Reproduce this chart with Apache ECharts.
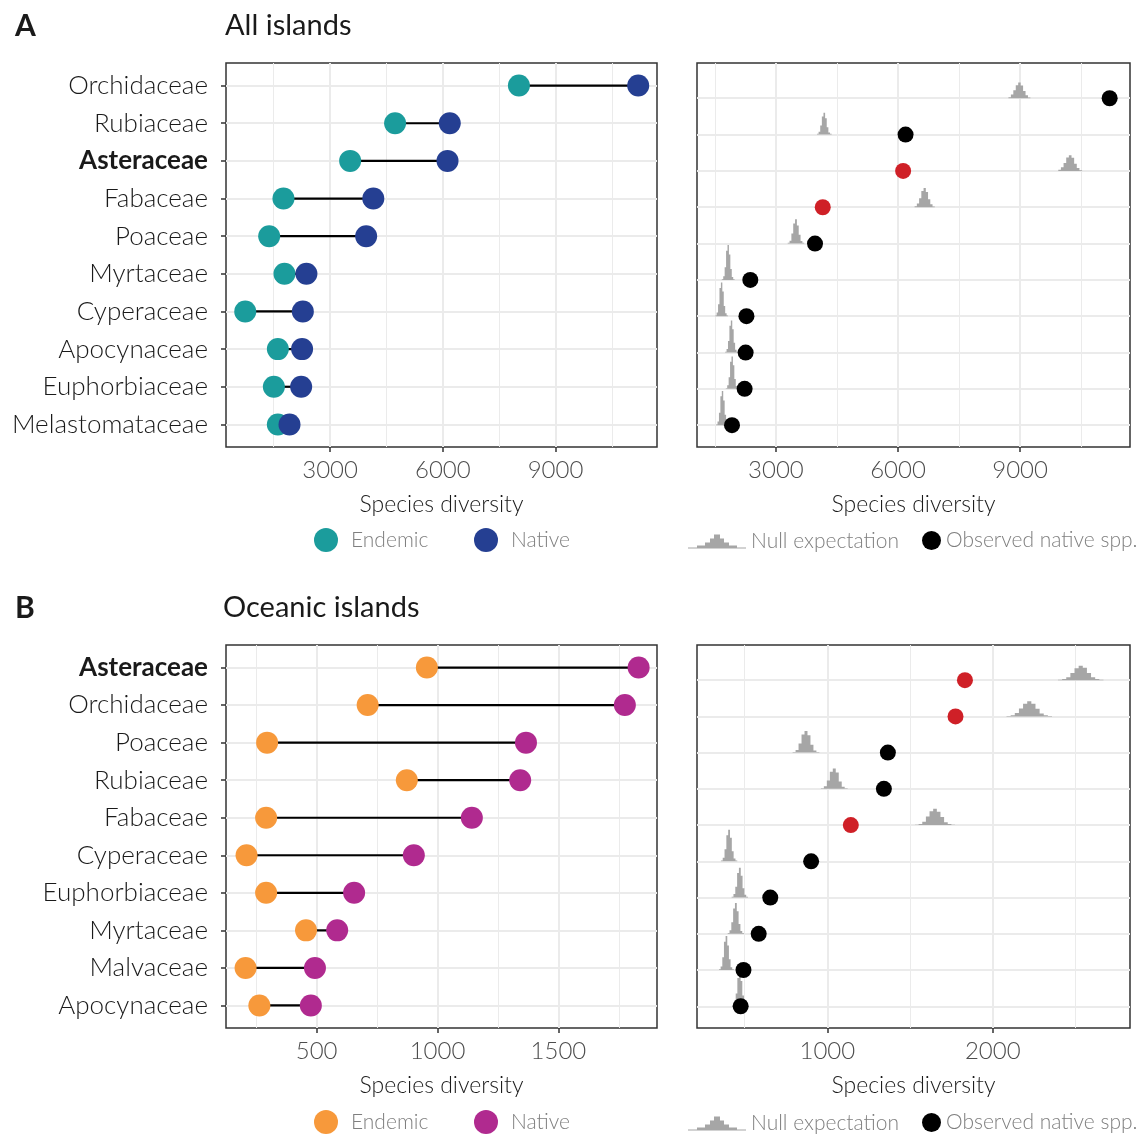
<!DOCTYPE html>
<html><head><meta charset="utf-8">
<script src="https://cdn.jsdelivr.net/npm/echarts@6/dist/echarts.min.js"></script>
<style>html,body{margin:0;padding:0;background:#fff}#c{width:1139px;height:1134px}</style>
</head><body><div id="c"></div>
<script>
// ---------- DATA ----------
const catsA = ['Orchidaceae','Rubiaceae','Asteraceae','Fabaceae','Poaceae','Myrtaceae','Cyperaceae','Apocynaceae','Euphorbiaceae','Melastomataceae'];
const endemicA = [8025, 4730, 3534, 1759, 1379, 1786, 742, 1610, 1504, 1610];
const nativeA  = [11200, 6185, 6125, 4150, 3960, 2370, 2275, 2255, 2230, 1920];
const signifA  = [0, 0, 1, 1, 0, 0, 0, 0, 0, 0];
const nullCenterA = [8983, 4188, 10230, 6655, 3492, 1827, 1665, 1909, 1925, 1687];
const nullBinA    = [60, 40, 65, 55, 45, 35, 35, 35, 35, 35];
const nullHeightsA = [
  [0.03,0.10,0.22,0.36,0.43,0.35,0.20,0.08,0.02],
  [0.02,0.08,0.25,0.50,0.60,0.45,0.20,0.06,0.02],
  [0.03,0.10,0.22,0.37,0.43,0.36,0.20,0.08,0.02],
  [0.03,0.10,0.25,0.45,0.53,0.42,0.22,0.08,0.02],
  [0.02,0.08,0.28,0.55,0.67,0.50,0.24,0.07,0.02],
  [0.02,0.10,0.35,0.80,0.96,0.70,0.30,0.08,0.02],
  [0.02,0.10,0.33,0.78,0.93,0.68,0.28,0.08,0.02],
  [0.02,0.10,0.32,0.74,0.88,0.64,0.27,0.08,0.02],
  [0.02,0.10,0.32,0.75,0.89,0.65,0.27,0.08,0.02],
  [0.02,0.10,0.34,0.80,0.94,0.68,0.29,0.08,0.02]
];

const catsB = ['Asteraceae','Orchidaceae','Poaceae','Rubiaceae','Fabaceae','Cyperaceae','Euphorbiaceae','Myrtaceae','Malvaceae','Apocynaceae'];
const endemicB = [956, 711, 295, 873, 291, 210, 291, 456, 206, 263];
const nativeB  = [1832, 1775, 1366, 1342, 1142, 902, 655, 585, 493, 476];
const signifB  = [1, 1, 0, 0, 1, 0, 0, 0, 0, 0];
const nullCenterB = [2532, 2221, 871, 1042, 1651, 406, 471, 447, 390, 471];
const nullBinB    = [25, 25, 18, 18, 22, 11, 11, 11, 10, 10];
const nullHeightsB = [
  [0.01,0.03,0.08,0.20,0.33,0.40,0.34,0.20,0.08,0.03,0.01],
  [0.01,0.03,0.09,0.22,0.35,0.42,0.35,0.21,0.08,0.03,0.01],
  [0.02,0.07,0.25,0.50,0.60,0.48,0.22,0.06,0.02],
  [0.02,0.07,0.23,0.47,0.56,0.45,0.20,0.06,0.02],
  [0.01,0.03,0.09,0.24,0.38,0.45,0.37,0.22,0.08,0.03,0.01],
  [0.02,0.10,0.33,0.72,0.87,0.65,0.28,0.08,0.02],
  [0.02,0.10,0.30,0.68,0.82,0.60,0.26,0.08,0.02],
  [0.02,0.10,0.32,0.70,0.85,0.62,0.27,0.08,0.02],
  [0.02,0.10,0.35,0.78,0.94,0.68,0.30,0.08,0.02],
  [0.02,0.10,0.35,0.78,0.95,0.70,0.30,0.08,0.02]
];

const rowIdx = [0,1,2,3,4,5,6,7,8,9];
const ticksA = [3000, 6000, 9000];
const minorA = [1500, 4500, 7500, 10500];
const ticksBL = [500, 1000, 1500];
const minorBL = [250, 750, 1250, 1750];
const ticksBR = [1000, 2000];
const minorBR = [500, 1500, 2500];

// ---------- STYLE ----------
const FONT = 'Lato, "Open Sans", sans-serif';
const TEAL = '#1b9c9c', BLUE = '#253f92', ORANGE = '#f7993b', MAGENTA = '#b02a8f';
const RED = '#cf2027', BLACK = '#000000', GREY = '#a6a6a6';
const GRIDC = '#ebebeb';

const grids = [
  {left:226, top:63, width:431, height:384},
  {left:697, top:63, width:433, height:384},
  {left:226, top:645, width:431, height:383},
  {left:697, top:645, width:433, height:383}
].map(g => Object.assign({show:true, borderColor:'#333333', borderWidth:1.5, backgroundColor:'transparent', containLabel:false, outerBoundsMode:'none'}, g));

function xMain(gi, min, max, ticks) {
  return {
    type:'value', gridIndex:gi, min:min, max:max, position:'bottom',
    axisLine:{show:false, onZero:false},
    axisTick:{show:true, customValues:ticks, length:5, lineStyle:{color:'#333333', width:1.5}},
    axisLabel:{customValues:ticks, color:'#4d4d4d', fontSize:24, fontFamily:FONT, fontWeight:300, margin:11, formatter:v => String(v)},
    splitLine:{show:true, lineStyle:{color:GRIDC, width:2}},
    name:'Species diversity', nameLocation:'middle', nameGap:46,
    nameTextStyle:{color:'#1a1a1a', fontSize:23, fontFamily:FONT, fontWeight:300}
  };
}
function xMinor(gi, min, max, minor) {
  return {
    type:'value', gridIndex:gi, min:min, max:max, position:'top',
    axisLine:{show:false, onZero:false}, axisTick:{show:false, customValues:minor}, axisLabel:{show:false},
    splitLine:{show:true, lineStyle:{color:GRIDC, width:1}}
  };
}
function yLeft(gi, cats) {
  return {
    type:'value', gridIndex:gi, min:-0.6, max:9.6, inverse:true, position:'left',
    axisLine:{show:false, onZero:false},
    axisTick:{show:true, customValues:rowIdx, length:5, lineStyle:{color:'#333333', width:1.5}},
    axisLabel:{customValues:rowIdx, color:'#1a1a1a', fontSize:26, fontFamily:FONT, fontWeight:300, margin:18,
      formatter:v => { const n = cats[Math.round(v)]; return n === 'Asteraceae' ? '{b|' + n + '}' : n; },
      rich:{b:{fontWeight:'bold', fontSize:26, fontFamily:FONT, color:'#1a1a1a'}}},
    splitLine:{show:true, lineStyle:{color:GRIDC, width:2}}
  };
}
function yRight(gi) {
  return {
    type:'value', gridIndex:gi, min:-0.97, max:9.6, inverse:true, position:'left',
    axisLine:{show:false, onZero:false},
    axisTick:{show:false, customValues:rowIdx}, axisLabel:{show:false},
    splitLine:{show:true, lineStyle:{color:GRIDC, width:2}}
  };
}

function segSeries(xi, yi, endemic, native) {
  return {
    type:'custom', xAxisIndex:xi, yAxisIndex:yi, silent:true,
    data: endemic.map((e, i) => [e, native[i], i]),
    encode:{x:[0,1], y:2},
    renderItem:(params, api) => {
      const p1 = api.coord([api.value(0), api.value(2)]);
      const p2 = api.coord([api.value(1), api.value(2)]);
      return {type:'line', shape:{x1:p1[0], y1:p1[1], x2:p2[0], y2:p2[1]}, style:{stroke:'#000', lineWidth:2.2}};
    }
  };
}
function dotSeries(name, xi, yi, vals, color, size) {
  return {
    type:'scatter', name:name, xAxisIndex:xi, yAxisIndex:yi, symbol:'circle', symbolSize:size,
    itemStyle:{color:color, opacity:1}, silent:true,
    data: vals.map((v, i) => [v, i])
  };
}
function ridgeSeries(xi, yi, centers, bins, heights) {
  return {
    type:'custom', name:'Null expectation', xAxisIndex:xi, yAxisIndex:yi, silent:true,
    itemStyle:{color:GREY},
    data: centers.map((c, i) => [c, i]),
    encode:{x:0, y:1},
    renderItem:(params, api) => {
      const i = params.dataIndex;
      const row = api.value(1);
      const hs = heights[i], bw = bins[i];
      const x0 = centers[i] - hs.length * bw / 2;
      const pts = [api.coord([x0, row])];
      for (let j = 0; j < hs.length; j++) {
        pts.push(api.coord([x0 + j * bw, row - hs[j]]));
        pts.push(api.coord([x0 + (j + 1) * bw, row - hs[j]]));
      }
      pts.push(api.coord([x0 + hs.length * bw, row]));
      return {type:'polygon', shape:{points:pts}, style:{fill:GREY}};
    }
  };
}
function obsSeries(xi, yi, vals, sig) {
  return {
    type:'scatter', name:'Observed native spp.', xAxisIndex:xi, yAxisIndex:yi, symbol:'circle', symbolSize:16,
    itemStyle:{color:BLACK, opacity:1}, silent:true,
    data: vals.map((v, i) => ({value:[v, i], itemStyle:{color: sig[i] ? RED : BLACK}}))
  };
}

const legText = {fontSize:21, color:'#7f7f7f', fontFamily:FONT, fontWeight:300};
function leg(name, color, left, top, w, h, icon) {
  return {
    data:[{name:name, itemStyle:{color:color}, icon:icon}], left:left, top:top, padding:0,
    itemWidth:w, itemHeight:h, itemGap:0, selectedMode:false, textStyle:legText, icon:icon
  };
}
const histIcon = 'path://M0,16L0,15L9,15L9,13L17,13L17,10L22,10L22,6L26,6L26,2L32,2L32,6L36,6L36,10L41,10L41,13L49,13L49,15L58,15L58,16Z';

const titleStyle = {fontFamily:FONT, color:'#1a1a1a', fontSize:29, fontWeight:400};
const option = {
  animation:false,
  backgroundColor:'#ffffff',
  title:[
    {text:'A', left:15, top:11, padding:0, textStyle:Object.assign({}, titleStyle, {fontSize:30, fontWeight:'bold'})},
    {text:'All islands', left:225, top:11, padding:0, textStyle:titleStyle},
    {text:'B', left:15, top:593, padding:0, textStyle:Object.assign({}, titleStyle, {fontSize:30, fontWeight:'bold'})},
    {text:'Oceanic islands', left:223, top:593, padding:0, textStyle:titleStyle}
  ],
  grid: grids,
  xAxis:[
    xMain(0, 230, 11700, ticksA), xMinor(0, 230, 11700, minorA),
    xMain(1, 1060, 11700, ticksA), xMinor(1, 1060, 11700, minorA),
    xMain(2, 125, 1908, ticksBL), xMinor(2, 125, 1908, minorBL),
    xMain(3, 212, 2830, ticksBR), xMinor(3, 212, 2830, minorBR)
  ],
  yAxis:[ yLeft(0, catsA), yRight(1), yLeft(2, catsB), yRight(3) ],
  legend:[
    leg('Endemic', TEAL, 314, 528, 40, 24, 'circle'),
    leg('Native', BLUE, 474, 528, 40, 24, 'circle'),
    leg('Null expectation', GREY, 688, 531, 58, 16, histIcon),
    leg('Observed native spp.', BLACK, 922, 530, 19, 19, 'circle'),
    leg('Endemic', ORANGE, 314, 1110, 40, 24, 'circle'),
    leg('Native', MAGENTA, 474, 1110, 40, 24, 'circle'),
    leg('Null expectation', GREY, 688, 1113, 58, 16, histIcon),
    leg('Observed native spp.', BLACK, 922, 1112, 19, 19, 'circle')
  ],
  series:[
    segSeries(0, 0, endemicA, nativeA),
    dotSeries('Endemic', 0, 0, endemicA, TEAL, 22),
    dotSeries('Native', 0, 0, nativeA, BLUE, 22),
    ridgeSeries(2, 1, nullCenterA, nullBinA, nullHeightsA),
    obsSeries(2, 1, nativeA, signifA),
    segSeries(4, 2, endemicB, nativeB),
    dotSeries('Endemic', 4, 2, endemicB, ORANGE, 22),
    dotSeries('Native', 4, 2, nativeB, MAGENTA, 22),
    ridgeSeries(6, 3, nullCenterB, nullBinB, nullHeightsB),
    obsSeries(6, 3, nativeB, signifB)
  ]
};
const chart = echarts.init(document.getElementById('c'), null, {renderer:'canvas'});
chart.setOption(option);
</script></body></html>
